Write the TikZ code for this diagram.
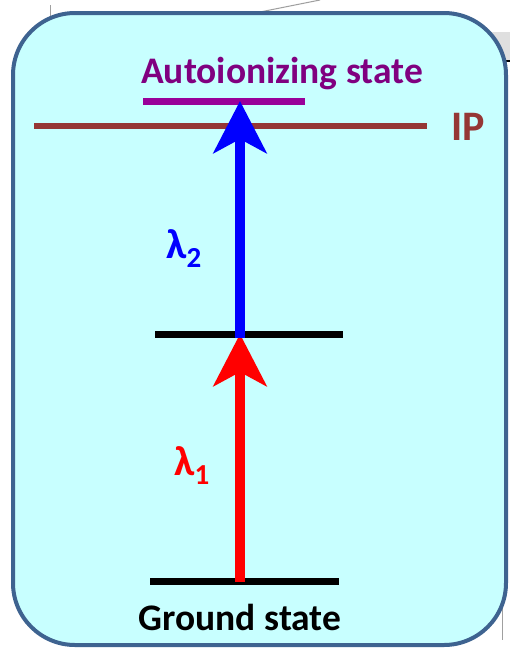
\documentclass[tikz,border=0pt]{standalone}
\usepackage{fontspec}
\setmainfont{Carlito}
\usetikzlibrary{arrows.meta}
\definecolor{boxfill}{HTML}{C8FFFF}
\definecolor{boxdraw}{HTML}{3E6390}
\definecolor{autocol}{HTML}{800080}
\definecolor{autoline}{HTML}{990099}
\definecolor{ipcol}{HTML}{953735}
\definecolor{stray}{HTML}{A0A0A0}
\newcommand{\lamsub}[1]{λ\raisebox{-9pt}{\fontsize{29}{30}\selectfont #1}}
\tikzset{
  level/.style={line width=7pt},
  lbl/.style={font=\bfseries\fontsize{37.5}{42}\selectfont, inner sep=0pt},
  lam/.style={font=\bfseries\fontsize{42}{46}\selectfont, inner sep=0pt, anchor=base west},
  photon/.style={line width=10pt, -{Stealth[length=52pt, width=53pt, inset=14pt]}}
}
\begin{document}
\begin{tikzpicture}[x=1pt,y=-1pt]
\useasboundingbox (0,0) rectangle (510,649);
% stray background pieces
\fill[gray!25] (488,32) rectangle (510,62);
\draw[black, line width=1.5pt] (503,61) -- (510,61);
\draw[stray, line width=1pt] (50,5) -- (50,28);
\draw[stray, line width=1pt] (250,14) -- (320,0);
\draw[stray, line width=1pt] (502,560) -- (502,640);
% box
\draw[boxdraw, fill=boxfill, line width=4pt, rounded corners=62pt] (13,13) rectangle (506,645);
% levels
\coordinate (g) at (240,581);
\coordinate (m) at (240,334);
\coordinate (a) at (240,101);
\draw[level, black] (150,581) -- (339,581);
\draw[level, black] (155,334) -- (343,334);
\draw[ipcol, line width=6pt] (34,125.5) -- (427,125.5);
\draw[autoline, line width=7pt] (143,101.5) -- (305,101.5);
% arrows
\draw[photon, red] ([yshift=-1pt]g) -- (m);
\draw[photon, blue] ([yshift=-4pt]m) -- (a);
% labels
\node[lbl, text=autocol] (auto) at (282,74) {Autoionizing state};
\node[lbl, text=ipcol, font=\bfseries\fontsize{42}{46}\selectfont] (ip) at (468,127) {IP};
\node[lbl, text=black] (gs) at (240,617) {Ground state};
\node[lam, text=blue] (l2) at (166,258) {\lamsub{2}};
\node[lam, text=red] (l1) at (174,475) {\lamsub{1}};
\end{tikzpicture}
\end{document}
